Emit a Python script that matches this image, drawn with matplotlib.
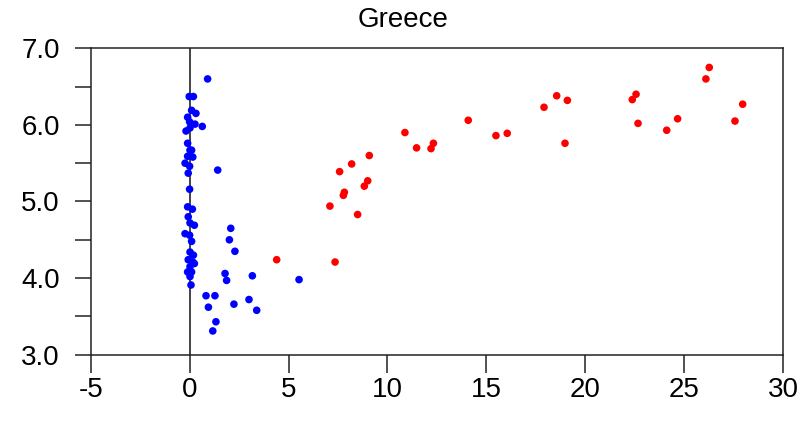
import matplotlib
matplotlib.use("Agg")
import matplotlib.pyplot as plt
from matplotlib.ticker import MultipleLocator

plt.rcParams['font.family'] = ['Liberation Sans', 'DejaVu Sans']
plt.rcParams['axes.unicode_minus'] = False

# blue points (clustered near zero)
blue_x = [0.91, -0.02, 0.19, 0.10, 0.32, -0.10, 0.00, 0.27, 0.64, -0.18, 0.02,
          -0.10, 0.02, 0.10, -0.10, 0.16, -0.23, 0.00, 1.42, -0.07, 0.00,
          -0.10, 0.14, -0.07, 0.02, 0.24, -0.23, 0.00, 0.10,
          2.08, 2.01, 2.29, 0.02, 0.19, -0.07, 0.16, 0.02, 0.24, -0.10, 0.10,
          0.02, 0.07, 1.79, 1.87, 3.17, 5.53, 0.83, 1.28, 0.95, 2.24, 3.00,
          3.39, 1.33, 1.17]
blue_y = [6.60, 6.37, 6.37, 6.19, 6.15, 6.10, 6.04, 6.01, 5.98, 5.92, 5.96,
          5.76, 5.67, 5.67, 5.59, 5.58, 5.50, 5.46, 5.41, 5.37, 5.16,
          4.93, 4.90, 4.80, 4.72, 4.69, 4.58, 4.56, 4.48,
          4.65, 4.50, 4.35, 4.34, 4.30, 4.24, 4.21, 4.15, 4.19, 4.08, 4.08,
          4.02, 3.91, 4.06, 3.97, 4.03, 3.98, 3.77, 3.77, 3.62, 3.66, 3.72,
          3.58, 3.43, 3.31]

# red points
red_x = [4.40, 7.35, 7.09, 8.49, 7.77, 7.82, 8.83, 9.00, 7.58, 8.19, 9.08,
         10.88, 11.47, 12.20, 12.32, 14.08, 15.48, 16.05, 17.91, 18.55, 19.09,
         18.97, 22.37, 22.56, 22.66, 24.11, 24.66, 26.09, 26.26, 27.56, 27.95]
red_y = [4.24, 4.21, 4.94, 4.83, 5.08, 5.12, 5.20, 5.27, 5.39, 5.49, 5.60,
         5.90, 5.70, 5.69, 5.76, 6.06, 5.86, 5.89, 6.23, 6.38, 6.32,
         5.76, 6.33, 6.40, 6.02, 5.93, 6.08, 6.60, 6.75, 6.05, 6.27]

fig = plt.figure(figsize=(8.11, 4.25), dpi=100)
ax = fig.add_axes([0.1118, 0.1654, 0.854, 0.721])

ax.axvline(0, color='#111111', lw=1.1, zorder=1)
ax.scatter(blue_x, blue_y, s=30, c='#0000ff', edgecolors='none', zorder=3)
ax.scatter(red_x, red_y, s=30, c='#ff0000', edgecolors='none', zorder=3)

ax.set_xlim(-5, 30)
ax.set_ylim(3, 7)
ax.xaxis.set_major_locator(MultipleLocator(5))
ax.yaxis.set_major_locator(MultipleLocator(1))
ax.yaxis.set_minor_locator(MultipleLocator(0.5))
ax.yaxis.set_major_formatter(matplotlib.ticker.FormatStrFormatter('%.1f'))

for s in ax.spines.values():
    s.set_color('#222222')
    s.set_linewidth(1.1)

ax.tick_params(axis='y', which='both', direction='out', length=11.3, width=1.1,
               color='#222222', labelsize=20, pad=11)
ax.tick_params(axis='x', direction='out', length=13, width=1.1,
               color='#222222', labelsize=20, pad=3)

fig.text(0.497, 0.922, 'Greece', ha='center', va='bottom', fontsize=20)

fig.savefig('out.png', dpi=100)
